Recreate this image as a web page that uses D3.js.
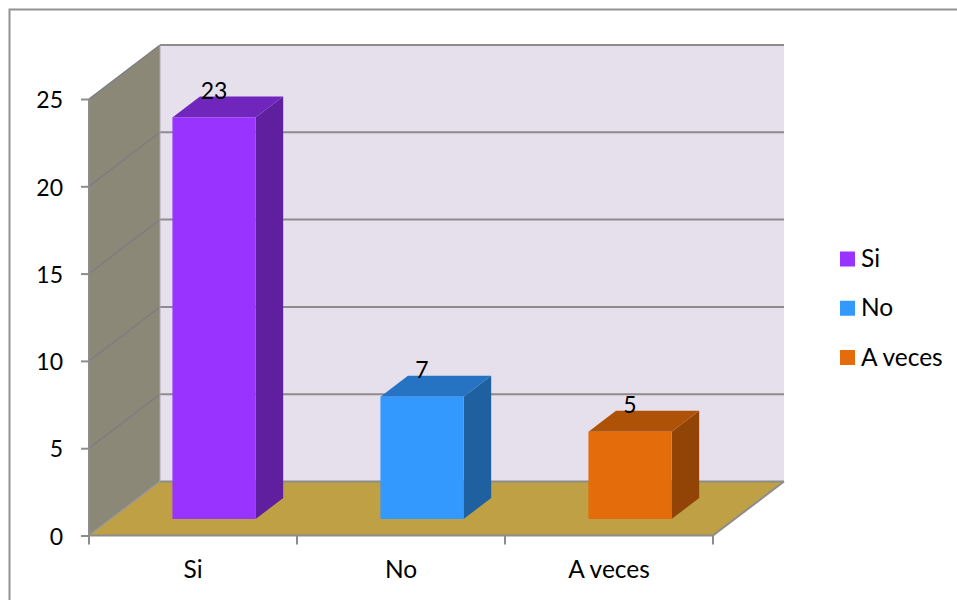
<!DOCTYPE html>
<html><head><meta charset="utf-8">
<script src="https://cdn.jsdelivr.net/npm/d3@7/dist/d3.min.js"></script>
<style>html,body{margin:0;padding:0;background:#fff;overflow:hidden}svg{display:block}text{font-family:Lato,"Open Sans",sans-serif;fill:#000}</style>
</head><body><svg id="c" width="957" height="600"></svg>
<script>
const categories = ["Si","No","A veces"];
const values = [23,7,5];
const frontColors = ["#9933ff","#3399ff","#e46c0a"];
const topColors = ["#7026bc","#2673c4","#ae5207"];
const sideColors = ["#601f9f","#1f60a0","#924406"];
const yTicks = [0,5,10,15,20,25];

const svg = d3.select("#c");
const x = d3.scaleBand().domain(categories).range([89,713]).paddingInner(0).paddingOuter(0);
const y = d3.scaleLinear().domain([0,25]).range([535.5,99]);
const depth = {dx:71, dy:-54};
const P = (px,v,d)=>[px+depth.dx*d, y(v)+depth.dy*d];
const poly = pts=>"M"+pts.map(p=>p.join(",")).join("L")+"Z";
const X0=x.range()[0], X1=x.range()[1];
const axisColor="#8c8c8c";

// chart frame
svg.append("path").attr("d","M957,9.5H9.5V600").attr("fill","none").attr("stroke","#929292").attr("stroke-width",2);

// walls
svg.append("path").attr("d",poly([P(X0,0,1),P(X1,0,1),P(X1,25,1),P(X0,25,1)])).attr("fill","#e6e0ec");
svg.append("path").attr("d",poly([P(X0,0,0),P(X0,0,1),P(X0,25,1),P(X0,25,0)])).attr("fill","#8b8878");
svg.append("path").attr("d",poly([P(X0,0,0),P(X1,0,0),P(X1,0,1),P(X0,0,1)])).attr("fill","#bfa045");

// gridlines
yTicks.forEach(t=>{
  const a=P(X0,t,0),b=P(X0,t,1),c=P(X1,t,1);
  svg.append("line").attr("x1",a[0]).attr("y1",a[1]).attr("x2",b[0]).attr("y2",b[1])
    .attr("stroke",t===0?"#9a9a96":"#7c7c80").attr("stroke-width",1.3);
  svg.append("line").attr("x1",b[0]).attr("y1",b[1]).attr("x2",c[0]).attr("y2",c[1])
    .attr("stroke",axisColor).attr("stroke-width",2);
});
svg.append("line").attr("x1",160).attr("x2",160).attr("y1",y(25)+depth.dy).attr("y2",y(0)+depth.dy).attr("stroke","#aaa8b0").attr("stroke-width",1);
{const a=P(X1,0,0),b=P(X1,0,1);
svg.append("line").attr("x1",a[0]).attr("y1",a[1]).attr("x2",b[0]).attr("y2",b[1]).attr("stroke",axisColor).attr("stroke-width",2);}

// axes
const gy=svg.append("g").attr("transform",`translate(${X0},0)`).call(d3.axisLeft(y).tickValues(yTicks).tickSize(8).tickPadding(18));
gy.select(".domain").attr("stroke",axisColor).attr("stroke-width",2).attr("d",`M0,${y(25)}V${y(0)}`);
gy.selectAll(".tick line").attr("stroke",axisColor).attr("stroke-width",2);
gy.selectAll("text").style("font-size","23px").attr("dy","0.38em");

const gx=svg.append("g").attr("transform",`translate(0,${y(0)})`).call(d3.axisBottom(x).tickSize(0).tickPadding(0));
gx.select(".domain").attr("stroke",axisColor).attr("stroke-width",2).attr("d",`M${X0},0H${X1}`);
gx.selectAll(".tick line").remove();
gx.selectAll("text").style("font-size","24.5px").attr("y",42).attr("dy",0);
[...categories.map(c=>x(c)),X1].forEach(px=>{
  gx.append("line").attr("x1",px).attr("x2",px).attr("y1",0).attr("y2",9).attr("stroke",axisColor).attr("stroke-width",2);
});

// bars
const dFront=0.306, dBack=0.694, barFrac=0.4, nudge=-0.7;
categories.forEach((c,i)=>{
  const v=values[i], w=x.bandwidth()*barFrac, l=x(c)+(x.bandwidth()-w)/2+nudge, r=l+w;
  svg.append("path").attr("d",poly([P(r,0,dFront),P(r,0,dBack),P(r,v,dBack),P(r,v,dFront)])).attr("fill",sideColors[i]);
  svg.append("path").attr("d",poly([P(l,v,dFront),P(r,v,dFront),P(r,v,dBack),P(l,v,dBack)])).attr("fill",topColors[i]);
  svg.append("path").attr("d",poly([P(l,0,dFront),P(r,0,dFront),P(r,v,dFront),P(l,v,dFront)])).attr("fill",frontColors[i]);
  svg.append("text").attr("x",x(c)+x.bandwidth()/2+21).attr("y",y(v)-35).attr("text-anchor","middle").style("font-size","23px").text(v);
});

// legend
const ly=d3.scalePoint().domain(categories).range([259,357.5]);
categories.forEach((c,i)=>{
  svg.append("rect").attr("x",840).attr("y",ly(c)-7.5).attr("width",15).attr("height",15).attr("fill",frontColors[i]);
  svg.append("text").attr("x",861).attr("y",ly(c)+8).style("font-size","24.5px").text(c);
});
</script></body></html>
